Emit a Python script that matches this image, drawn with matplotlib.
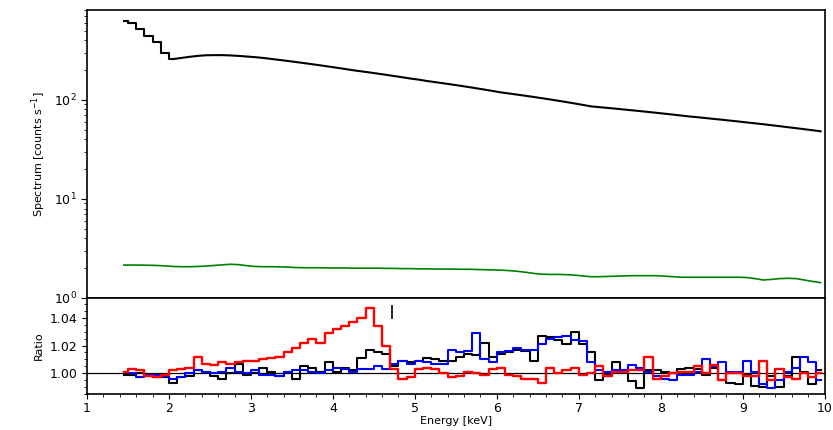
import numpy as np
import matplotlib
matplotlib.use('Agg')
import matplotlib.pyplot as plt
from matplotlib.ticker import MultipleLocator, FormatStrFormatter

# Bin centres in keV (0.1 keV bins)
energy = np.round(np.arange(1.45, 10.0, 0.1), 2)

# Source spectrum [counts/s]
spectrum = [628, 600, 520, 440, 380, 300,
            258, 265, 272, 278, 282, 283, 283, 281, 278, 274,
            270, 265, 259, 253, 247, 241, 235, 229, 223, 217,
            211, 205, 199, 194, 189, 184, 179, 174, 169, 164,
            160, 155, 151, 147, 143, 139, 135, 131, 127, 123,
            119, 116, 113, 110, 107, 104, 101, 98, 95, 92,
            89, 86, 84.5, 83, 81.5, 80, 78.5, 77, 75.5, 74,
            72.5, 71, 69.5, 68, 66.8, 65.5, 64.2, 63, 61.7, 60.5,
            59.2, 58, 56.8, 55.5, 54.3, 53, 51.8, 50.6, 49.4, 48.2]

# Background spectrum [counts/s]
background = [2.15, 2.15, 2.15, 2.14, 2.13, 2.11,
              2.08, 2.07, 2.07, 2.08, 2.10,
              2.13, 2.16, 2.19, 2.17, 2.12,
              2.08, 2.07, 2.07, 2.06, 2.05,
              2.03, 2.02, 2.02, 2.02, 2.01,
              2.01, 2.01, 2.00, 2.00, 2.00,
              2.00, 1.99, 1.99, 1.98, 1.98,
              1.97, 1.97, 1.96, 1.96, 1.96,
              1.95, 1.95, 1.94, 1.93, 1.92,
              1.91, 1.89, 1.86, 1.82, 1.77,
              1.74, 1.73, 1.73, 1.72, 1.70,
              1.67, 1.64, 1.64, 1.65, 1.66,
              1.67, 1.68, 1.68, 1.68, 1.68,
              1.66, 1.64, 1.62, 1.62, 1.62,
              1.62, 1.62, 1.62, 1.62, 1.62,
              1.61, 1.57, 1.52, 1.54, 1.57,
              1.58, 1.57, 1.52, 1.47, 1.43]

# Data/model ratios
ratio_black = [0.999, 0.999, 1.000, 0.998, 0.997, 0.997,
               0.993, 0.997, 0.998, 1.002, 1.001, 0.998, 0.996, 1.000, 1.007, 0.999,
               1.000, 1.004, 1.001, 0.998, 1.001, 0.996, 1.005, 1.004, 1.001, 1.008,
               1.001, 1.004, 1.002, 1.011, 1.017, 1.015, 1.014, 1.005, 1.009, 1.008,
               1.009, 1.011, 1.010, 1.009, 1.009, 1.012, 1.014, 1.013, 1.022, 1.012,
               1.014, 1.015, 1.017, 1.016, 1.009, 1.027, 1.026, 1.024, 1.021, 1.030,
               1.021, 1.015, 0.995, 0.999, 1.008, 1.002, 0.994, 0.989, 1.002, 1.002,
               1.001, 1.000, 1.003, 1.004, 1.003, 0.999, 1.004, 0.995, 0.993, 0.992,
               0.999, 0.991, 0.990, 0.998, 0.990, 0.998, 1.012, 1.001, 0.992, 1.002]

ratio_red = [1.001, 1.003, 1.002, 0.998, 0.997, 0.999,
             1.002, 1.003, 1.004, 1.012, 1.007, 1.006, 1.008, 1.007, 1.008, 1.009,
             1.009, 1.010, 1.011, 1.012, 1.015, 1.018, 1.022, 1.025, 1.022, 1.029,
             1.032, 1.034, 1.037, 1.040, 1.047, 1.034, 1.020, 1.003, 0.996, 0.997,
             1.003, 1.004, 1.003, 1.000, 0.997, 0.998, 1.001, 1.000, 0.999, 1.003,
             1.004, 0.999, 0.998, 0.996, 0.996, 0.993, 1.004, 1.000, 1.002, 1.004,
             0.999, 1.000, 1.005, 0.998, 1.001, 1.001, 1.002, 1.002, 1.012, 0.996,
             0.998, 1.000, 1.001, 1.001, 1.005, 1.000, 1.006, 0.995, 1.000, 1.000,
             0.998, 0.998, 1.009, 0.995, 1.003, 0.997, 0.996, 1.000, 0.997, 1.000]

ratio_blue = [1.001, 1.000, 0.997, 0.999, 0.999, 0.998,
              0.996, 0.997, 1.000, 1.002, 1.001, 1.000, 1.001, 1.004, 1.001, 1.000,
              1.002, 0.999, 0.999, 0.998, 1.001, 1.002, 1.002, 1.001, 1.000, 1.002,
              1.004, 1.003, 1.001, 1.003, 1.003, 1.005, 1.003, 1.007, 1.009, 1.007,
              1.009, 1.008, 1.007, 1.007, 1.017, 1.015, 1.016, 1.029, 1.010, 1.008,
              1.015, 1.016, 1.018, 1.017, 1.017, 1.021, 1.025, 1.026, 1.027, 1.024,
              1.023, 1.008, 1.002, 1.001, 1.002, 1.002, 1.006, 1.004, 1.001, 0.998,
              0.996, 0.995, 0.999, 0.999, 1.001, 1.010, 1.005, 1.008, 1.001, 1.001,
              1.009, 1.001, 0.992, 0.989, 0.995, 1.001, 1.004, 1.012, 1.008, 0.995]

# Line marker position [keV] and extent in ratio
line_energy = 4.72
line_span = (1.040, 1.049)

plt.rcParams['font.size'] = 9

fig = plt.figure(figsize=(8.33, 4.30), dpi=100)
ax1 = fig.add_axes([0.1044, 0.307, 0.8856, 0.670])
ax2 = fig.add_axes([0.1044, 0.084, 0.8856, 0.223], sharex=ax1)

# Top panel: spectra (binned steps are only visible on the steep low-energy part)
n_step = 6
ax1.step(energy[:n_step + 1], spectrum[:n_step + 1], where='mid', color='black', lw=1.5)
ax1.plot(energy[n_step:], spectrum[n_step:], color='black', lw=1.5)
ax1.plot(energy, background, color='green', lw=1.2)
ax1.set_yscale('log')
ax1.set_ylim(1, 810)
ax1.set_ylabel('Spectrum [counts s$^{-1}$]', fontsize=8)
ax1.tick_params(axis='x', which='both', length=0, labelbottom=False)
ax1.tick_params(axis='y', which='major', length=4)

# Bottom panel: ratios
ax2.axhline(1.0, color='black', lw=0.9)
ax2.step(energy, ratio_black, where='mid', color='black', lw=1.5)
ax2.step(energy, ratio_blue, where='mid', color='blue', lw=1.5)
ax2.step(energy, ratio_red, where='mid', color='red', lw=1.7)
ax2.plot([line_energy, line_energy], line_span, color='black', lw=1.2)
ax2.set_ylim(0.985, 1.0545)
ax2.set_xlim(1, 10)
ax2.yaxis.set_major_locator(MultipleLocator(0.02))
ax2.yaxis.set_minor_locator(MultipleLocator(0.005))
ax2.yaxis.set_major_formatter(FormatStrFormatter('%.2f'))
ax2.xaxis.set_major_locator(MultipleLocator(1))
ax2.xaxis.set_minor_locator(MultipleLocator(0.2))
ax2.tick_params(axis='x', which='major', pad=2)
ax2.set_ylabel('Ratio', fontsize=8)
ax2.set_xlabel('Energy [keV]', fontsize=8, labelpad=1)

for ax in (ax1, ax2):
    for sp in ax.spines.values():
        sp.set_linewidth(1.2)

fig.savefig('out.png', dpi=100)
